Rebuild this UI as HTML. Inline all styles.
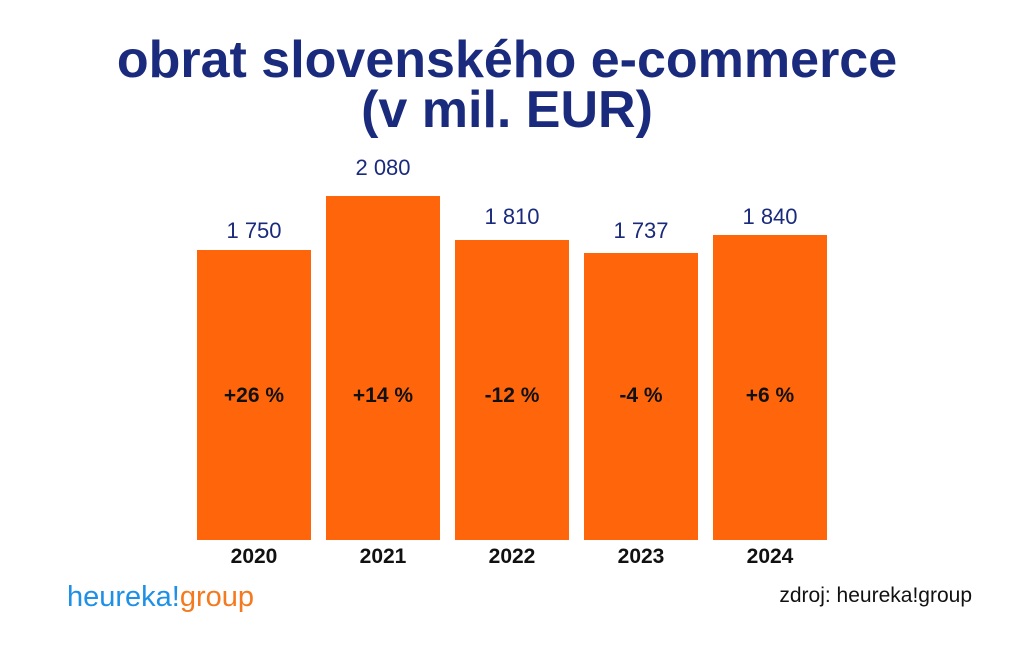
<!DOCTYPE html>
<html><head><meta charset="utf-8"><style>
body{margin:0;width:1024px;height:652px;background:#fff;position:relative;overflow:hidden;font-family:"Liberation Sans",sans-serif}
.t{position:absolute;left:0;width:1014px;text-align:center;color:#1a2a7c;font-size:52px;line-height:50px;font-weight:bold}
.bar{position:absolute;background:#ff660c;width:114px;bottom:112px}
.v{position:absolute;width:114px;text-align:center;color:#1a2a7c;font-size:22px}
.p{position:absolute;width:114px;text-align:center;color:#111;font-size:21px;top:384px;font-weight:bold}
.y{position:absolute;width:114px;text-align:center;color:#111;font-size:21px;top:545px;font-weight:bold}
</style></head><body>
<div class="t" style="top:35px">obrat slovenského e-commerce</div>
<div class="t" style="top:85px">(v mil. EUR)</div>

<div class="bar" style="left:197px;top:250px"></div>
<div class="bar" style="left:326px;top:196px"></div>
<div class="bar" style="left:455px;top:240px"></div>
<div class="bar" style="left:584px;top:253px"></div>
<div class="bar" style="left:713px;top:235px"></div>

<div class="v" style="left:197px;top:218px">1 750</div>
<div class="v" style="left:326px;top:155px">2 080</div>
<div class="v" style="left:455px;top:204px">1 810</div>
<div class="v" style="left:584px;top:218px">1 737</div>
<div class="v" style="left:713px;top:204px">1 840</div>

<div class="p" style="left:197px">+26 %</div>
<div class="p" style="left:326px">+14 %</div>
<div class="p" style="left:455px">-12 %</div>
<div class="p" style="left:584px">-4 %</div>
<div class="p" style="left:713px">+6 %</div>

<div class="y" style="left:197px">2020</div>
<div class="y" style="left:326px">2021</div>
<div class="y" style="left:455px">2022</div>
<div class="y" style="left:584px">2023</div>
<div class="y" style="left:713px">2024</div>

<div style="position:absolute;left:67px;top:581px;font-size:29px"><span style="color:#1e90e6">heureka!</span><span style="color:#f47a20">group</span></div>
<div style="position:absolute;right:52px;top:584px;font-size:21px;color:#111">zdroj: heureka!group</div>
</body></html>
